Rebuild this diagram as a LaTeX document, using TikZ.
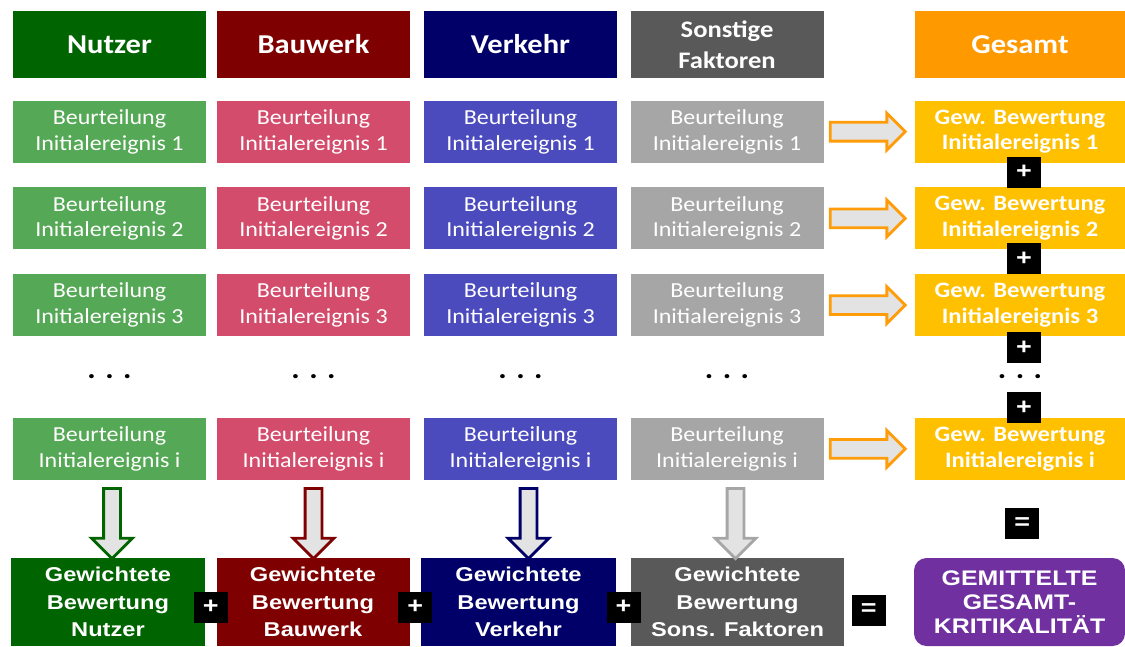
\documentclass[tikz,border=0pt]{standalone}
\usepackage{fontspec}
\usetikzlibrary{shapes,arrows,positioning,calc}

\newfontfamily\calfont[FakeStretch=1.12]{Carlito}
\newfontfamily\arialfont[FakeStretch=1.18]{Liberation Sans}

\definecolor{nutzerD}{HTML}{006400}
\definecolor{nutzerL}{HTML}{55A855}
\definecolor{bauwerkD}{HTML}{7F0000}
\definecolor{bauwerkL}{HTML}{D44C6C}
\definecolor{verkehrD}{HTML}{000068}
\definecolor{verkehrL}{HTML}{4B4BBE}
\definecolor{sonstD}{HTML}{595959}
\definecolor{sonstL}{HTML}{A6A6A6}
\definecolor{gesamtD}{HTML}{FF9900}
\definecolor{gesamtL}{HTML}{FFC000}
\definecolor{kritP}{HTML}{7030A0}
\definecolor{arrowO}{HTML}{FF9C0A}
\definecolor{arrowF}{HTML}{E3E3E3}

\begin{document}
\begin{tikzpicture}[
            node distance=0.48cm,
            colhead/.style={rectangle, fill=#1, text=white, minimum width=3.86cm, minimum height=1.34cm, inner sep=0pt, align=center, font=\calfont\bfseries\fontsize{15.5}{18}\selectfont},
            rowbox/.style={rectangle, fill=#1, text=white, minimum width=3.86cm, minimum height=1.24cm, inner sep=0pt, align=center, font=\calfont\fontsize{12.2}{14.7}\selectfont},
            gewbox/.style={rowbox=gesamtL, minimum width=4.2cm, font=\calfont\bfseries\fontsize{12.5}{14.7}\selectfont},
            sumbox/.style={rectangle, fill=#1, text=white, minimum height=1.76cm, inner sep=0pt, align=center, font=\arialfont\bfseries\fontsize{11.4}{15.8}\selectfont},
            opbox/.style={fill=black, text=white, minimum width=0.68cm, minimum height=0.62cm, inner sep=0pt, font=\arialfont\bfseries\fontsize{13}{13}\selectfont},
            etcdots/.style={font=\calfont\bfseries\fontsize{16}{16}\selectfont},
            arrright/.style={single arrow, draw=arrowO, fill=arrowF, line width=1.6pt, minimum height=1.5cm, single arrow head extend=0.18cm, inner xsep=0pt, inner ysep=0.16cm, anchor=tail},
            arrdown/.style={single arrow, draw=#1, fill=arrowF, line width=1.6pt, minimum height=1.4cm, single arrow head extend=0.24cm, inner xsep=0pt, inner ysep=0.14cm, rotate=-90, anchor=tail}
        ]
            \useasboundingbox (0,0) rectangle (22.5,12.92);

            % column heads
            \node[colhead=nutzerD] (nutzer) at (2.19,12.03) {Nutzer};
            \node[colhead=bauwerkD] (bauwerk) at (6.27,12.03) {Bauwerk};
            \node[colhead=verkehrD] (verkehr) at (10.41,12.03) {Verkehr};
            \node[colhead=sonstD, font=\calfont\bfseries\fontsize{13.5}{17.6}\selectfont] (sonst) at (14.54,12.03) {Sonstige\\Faktoren};
            \node[colhead=gesamtD, minimum width=4.2cm] (gesamt) at (20.40,12.03) {Gesamt};

            % Nutzer
            \node[rowbox=nutzerL, below=0.44cm of nutzer] (n1) {Beurteilung\\Initialereignis 1};
            \node[rowbox=nutzerL, below=of n1] (n2) {Beurteilung\\Initialereignis 2};
            \node[rowbox=nutzerL, below=of n2] (n3) {Beurteilung\\Initialereignis 3};
            \node[rowbox=nutzerL, below=1.62cm of n3] (ni) {Beurteilung\\Initialereignis i};
            \node[etcdots] (nd) at ($(n3.south)!0.5!(ni.north)$) {. . .};

            % Bauwerk
            \node[rowbox=bauwerkL, below=0.44cm of bauwerk] (b1) {Beurteilung\\Initialereignis 1};
            \node[rowbox=bauwerkL, below=of b1] (b2) {Beurteilung\\Initialereignis 2};
            \node[rowbox=bauwerkL, below=of b2] (b3) {Beurteilung\\Initialereignis 3};
            \node[rowbox=bauwerkL, below=1.62cm of b3] (bi) {Beurteilung\\Initialereignis i};
            \node[etcdots] (bd) at ($(b3.south)!0.5!(bi.north)$) {. . .};

            % Verkehr
            \node[rowbox=verkehrL, below=0.44cm of verkehr] (v1) {Beurteilung\\Initialereignis 1};
            \node[rowbox=verkehrL, below=of v1] (v2) {Beurteilung\\Initialereignis 2};
            \node[rowbox=verkehrL, below=of v2] (v3) {Beurteilung\\Initialereignis 3};
            \node[rowbox=verkehrL, below=1.62cm of v3] (vi) {Beurteilung\\Initialereignis i};
            \node[etcdots] (vd) at ($(v3.south)!0.5!(vi.north)$) {. . .};

            % Sonstige Faktoren
            \node[rowbox=sonstL, below=0.44cm of sonst] (s1) {Beurteilung\\Initialereignis 1};
            \node[rowbox=sonstL, below=of s1] (s2) {Beurteilung\\Initialereignis 2};
            \node[rowbox=sonstL, below=of s2] (s3) {Beurteilung\\Initialereignis 3};
            \node[rowbox=sonstL, below=1.62cm of s3] (si) {Beurteilung\\Initialereignis i};
            \node[etcdots] (sd) at ($(s3.south)!0.5!(si.north)$) {. . .};

            % Gesamt
            \node[gewbox, below=0.44cm of gesamt] (g1) {Gew. Bewertung\\Initialereignis 1};
            \node[gewbox, below=of g1] (g2) {Gew. Bewertung\\Initialereignis 2};
            \node[gewbox, below=of g2] (g3) {Gew. Bewertung\\Initialereignis 3};
            \node[gewbox, below=1.62cm of g3] (gi) {Gew. Bewertung\\Initialereignis i};
            \node[etcdots] (gd) at ($(g3.south)!0.5!(gi.north)$) {. . .};

            \node[arrright] (a1) at ([xshift=0.1cm]s1.east) {};
            \node[arrright] (a2) at ([xshift=0.1cm]s2.east) {};
            \node[arrright] (a3) at ([xshift=0.1cm]s3.east) {};
            \node[arrright] (ai) at ([xshift=0.1cm]si.east) {};

            \node[opbox] (p1) at ($(g1.south)!0.5!(g2.north) + (0.08,0.06)$) {+};
            \node[opbox] (p2) at ($(g2.south)!0.5!(g3.north) + (0.08,0.06)$) {+};
            \node[opbox] (p3) at ($(g3.south) + (0.08,-0.22)$) {+};
            \node[opbox] (p4) at ($(gi.north) + (0.08,0.2)$) {+};

            % weighted sums
            \node[sumbox=nutzerD, minimum width=3.88cm] (rn) at (2.16,0.88) {Gewichtete\\Bewertung\\Nutzer};
            \node[sumbox=bauwerkD, minimum width=3.86cm] (rb) at (6.26,0.88) {Gewichtete\\Bewertung\\Bauwerk};
            \node[sumbox=verkehrD, minimum width=3.9cm] (rv) at (10.37,0.88) {Gewichtete\\Bewertung\\Verkehr};
            \node[sumbox=sonstD, minimum width=4.26cm] (rs) at (14.75,0.88) {Gewichtete\\Bewertung\\Sons. Faktoren};
            \node[sumbox=kritP, rounded corners=0.25cm, minimum width=4.22cm, font=\arialfont\bfseries\fontsize{12}{13.6}\selectfont] (krit) at (20.39,0.88) {GEMITTELTE\\GESAMT-\\KRITIKALITÄT};

            \node[arrdown=nutzerD] (dn) at ([xshift=0.05cm, yshift=-0.14cm]ni.south) {};
            \node[arrdown=bauwerkD] (db) at ([yshift=-0.14cm]bi.south) {};
            \node[arrdown=verkehrD] (dv) at ([xshift=0.16cm, yshift=-0.14cm]vi.south) {};
            \node[arrdown=sonstL] (ds) at ([xshift=0.17cm, yshift=-0.14cm]si.south) {};

            \node[opbox] (q1) at ($(rn.east)!0.5!(rb.west) + (0,-0.1)$) {+};
            \node[opbox] (q2) at ($(rb.east)!0.5!(rv.west) + (0,-0.1)$) {+};
            \node[opbox] (q3) at ($(rv.east)!0.5!(rs.west) + (0,-0.1)$) {+};
            \node[opbox] (q4) at ($(rs.east)!0.35!(krit.west) + (0,-0.16)$) {=};
            \node[opbox] (q5) at ($(gi.south)!0.5!(krit.north) + (0.05,-0.1)$) {=};
        \end{tikzpicture}
\end{document}
